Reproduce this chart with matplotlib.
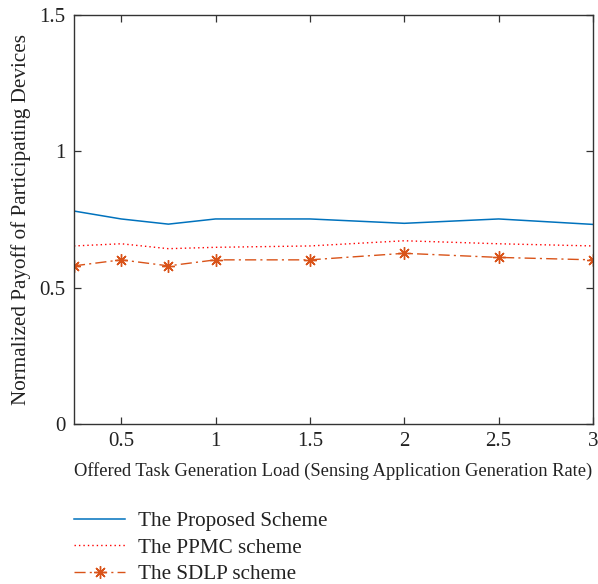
import matplotlib
matplotlib.use("Agg")
import matplotlib.pyplot as plt

x = [0.25, 0.5, 0.75, 1.0, 1.5, 2.0, 2.5, 3.0]
proposed = [0.781, 0.752, 0.733, 0.752, 0.752, 0.736, 0.752, 0.732]
ppmc = [0.653, 0.661, 0.643, 0.648, 0.653, 0.672, 0.661, 0.653]
sdlp = [0.580, 0.602, 0.580, 0.602, 0.602, 0.626, 0.611, 0.602]
xticks = [0.5, 1, 1.5, 2, 2.5, 3]
xticklabels = ["0.5", "1", "1.5", "2", "2.5", "3"]
yticks = [0, 0.5, 1, 1.5]
yticklabels = ["0", "0.5", "1", "1.5"]
labels = ["The Proposed Scheme", "The PPMC scheme", "The SDLP scheme"]

plt.rcParams['font.family'] = ['Liberation Serif', 'DejaVu Serif']

fig = plt.figure(figsize=(5.98, 5.84), dpi=100)
ax = fig.add_axes([74/598, 160/584, 519/598, 409/584])

l1, = ax.plot(x, proposed, color='#0072BD', lw=1.1, label=labels[0])
l2, = ax.plot(x, ppmc, color='#FF0000', lw=1.0, ls=(0, (1, 2.2)), label=labels[1])
l3, = ax.plot(x, sdlp, color='#D95319', lw=1.0, ls=(0, (8, 3, 1.5, 3)),
              marker=(8, 2, 0), markersize=9, markeredgewidth=1.0, label=labels[2])

ax.set_xlim(0.25, 3)
ax.set_ylim(0, 1.5)
ax.set_xticks(xticks)
ax.set_xticklabels(xticklabels)
ax.set_yticks(yticks)
ax.set_yticklabels(yticklabels)
ax.tick_params(direction='in', length=5, width=0.9, color='#333333',
               labelsize=15, top=True, right=True, labelcolor='#222222', pad=6)
for s in ax.spines.values():
    s.set_color('#333333')
    s.set_linewidth(1.0)

ax.set_xlabel("Offered Task Generation Load (Sensing Application Generation Rate)",
              fontsize=13.3, color='#222222', labelpad=8)
ax.set_ylabel("Normalized Payoff of Participating Devices",
              fontsize=15.2, color='#222222', labelpad=6)

fig.legend(handles=[l1, l2, l3], loc='upper left', bbox_to_anchor=(66/598, 1 - 503/584),
           frameon=False, fontsize=15.2, handlelength=2.4, handletextpad=0.6,
           labelspacing=0.32, borderaxespad=0, labelcolor='#222222')

fig.savefig("out.png", dpi=100)
